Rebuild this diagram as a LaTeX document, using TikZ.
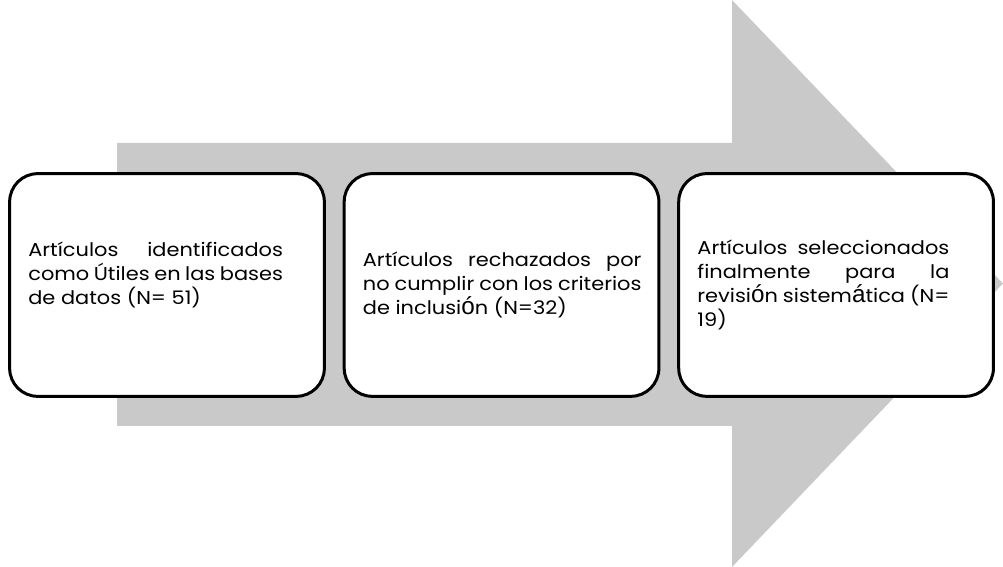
\documentclass[tikz,border=0pt]{standalone}
\usepackage{fontspec}
\setmainfont[FakeStretch=1.12]{Poppins}
\newfontfamily\tallfont[Scale=1.3]{Liberation Sans}
\usepackage{tikz}
\usetikzlibrary{positioning}
\definecolor{shaftgray}{RGB}{201,201,201}
\newcommand{\tall}[1]{{\tallfont #1}} % accented letters come out larger
% justified text block, kept to the left inside the box
\newcommand{\steptext}[2][191pt]{\makebox[208pt][l]{\begin{minipage}{#1}\fontsize{14pt}{18pt}\selectfont #2\end{minipage}}}
\tikzset{
    x=0.75pt, y=0.75pt, % one unit is one pixel of the layout
    stage/.style={draw, line width=2.25pt, fill=white, rounded corners=21pt,
        minimum width=236pt, minimum height=167pt, inner xsep=14pt}, % the three white boxes
    node distance=250.9pt, % centre to centre of neighbouring boxes
}

\begin{document}
\begin{tikzpicture}
    \useasboundingbox (0,0) rectangle (1003,567);
    % big gray arrow behind the boxes
    \fill[shaftgray] (117,141) -- (117,424) -- (732,424) -- (732,567)
        -- (1003,283.5) -- (732,0) -- (732,141) -- cycle;
    \node[stage] (found) at (167,282) {\steptext{Artículos identificados\linebreak como Útiles en las bases\linebreak de datos (N= 51)\\\mbox{}}};
    \node[stage, right of=found] (rejected) {\steptext[209pt]{Artículos rechazados por\linebreak no cumplir con los criterios\linebreak de inclusi\tall{ó}n (N=32)}};
    \node[stage, right of=rejected] (chosen) {\steptext[189pt]{Artículos seleccionados\linebreak finalmente para la\linebreak revisi\tall{ó}n sistem\tall{á}tica (N=\linebreak 19)}};
\end{tikzpicture}
\end{document}
